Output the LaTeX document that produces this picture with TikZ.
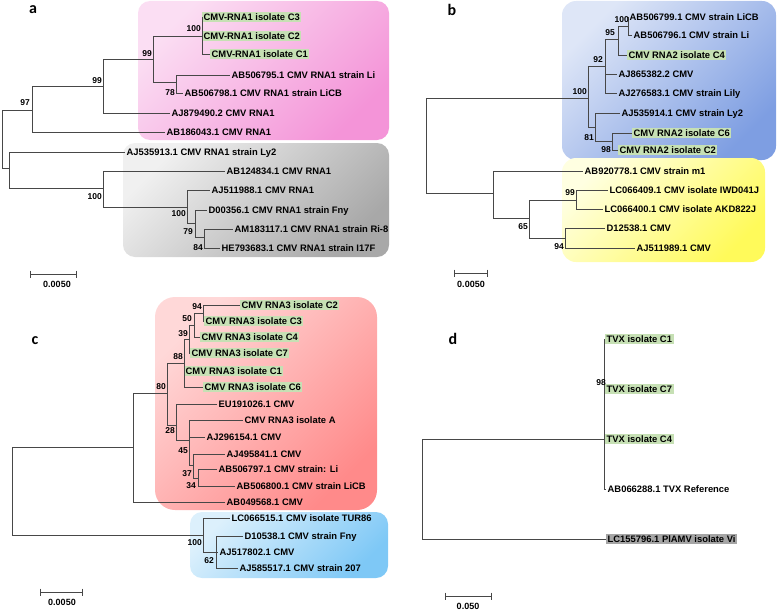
\documentclass[tikz,border=0pt]{standalone}
\usepackage{fontspec}
\setmainfont{Liberation Sans}
\newfontfamily\panelfont{Carlito}

\definecolor{isogreen}{RGB}{198,224,180}
\definecolor{outgray}{RGB}{165,165,165}
\definecolor{pinkL}{RGB}{251,222,243}
\definecolor{pinkD}{RGB}{244,148,216}
\definecolor{grayL}{RGB}{240,240,240}
\definecolor{grayD}{RGB}{168,168,168}
\definecolor{blueL}{RGB}{222,230,247}
\definecolor{blueD}{RGB}{126,158,226}
\definecolor{yelL}{RGB}{255,255,225}
\definecolor{yelD}{RGB}{255,250,90}
\definecolor{redL}{RGB}{255,216,216}
\definecolor{redD}{RGB}{255,138,138}
\definecolor{cyanL}{RGB}{220,240,252}
\definecolor{cyanD}{RGB}{126,200,246}

\tikzset{
    branch/.style={draw=black!72, line width=0.75pt},
    leaf/.style={anchor=west, inner xsep=1.5pt, inner ysep=1.6pt, text height=7pt, text depth=0.6pt,
                 font=\fontsize{9.4}{11}\selectfont\bfseries},
    isolate/.style={leaf, fill=isogreen},
    outgroup/.style={leaf, fill=outgray},
    boot/.style={anchor=east, inner sep=0pt, font=\fontsize{8.5}{10}\selectfont\bfseries},
    scalelbl/.style={inner sep=0pt, font=\fontsize{9}{10}\selectfont\bfseries},
    panel/.style={inner sep=0pt, font=\panelfont\fontsize{16}{18}\selectfont\bfseries},
}

\begin{document}
\begin{tikzpicture}[x=1pt, y=-1pt]
    \useasboundingbox (0,0) rectangle (778,610);

    % clade boxes
    \shade[rounded corners=12pt, top color=pinkL, bottom color=pinkD, shading angle=45] (138,1) rectangle (389,140);
    \shade[rounded corners=12pt, top color=grayL, bottom color=grayD, shading angle=45] (123,143) rectangle (389,257);
    \shade[rounded corners=14pt, top color=blueL, bottom color=blueD, shading angle=45] (562,1) rectangle (776,160);
    \shade[rounded corners=14pt, top color=yelL, bottom color=yelD, shading angle=45] (562,158) rectangle (765,262);
    \shade[rounded corners=20pt, top color=redL, bottom color=redD, shading angle=45] (155,297) rectangle (377,510);
    \shade[rounded corners=12pt, top color=cyanL, bottom color=cyanD, shading angle=45] (190,512) rectangle (388,578);

    \node[panel] (pa) at (33,10)  {a};
    \node[panel] (pb) at (452,10) {b};
    \node[panel] (pc) at (35,341) {c};
    \node[panel] (pd) at (453,339) {d};

    % ---- a: RNA1 ----
    \coordinate (aroot) at (2,139);
    \coordinate (a97)   at (32,110);
    \coordinate (a99o)  at (103,86);
    \coordinate (a99i)  at (153,59);
    \coordinate (a100)  at (202,36);
    \coordinate (a78)   at (176,82);
    \coordinate (alow)  at (9,168);
    \coordinate (a100m) at (103,188);
    \coordinate (a100l) at (187,207);
    \coordinate (a79)   at (195,223);
    \coordinate (a84)   at (204,237);

    \node[isolate] (aC3)   at (202,17)  {CMV-RNA1 isolate C3};
    \node[isolate] (aC2)   at (202,36)  {CMV-RNA1 isolate C2};
    \node[isolate] (aC1)   at (210,54)  {CMV-RNA1 isolate C1};
    \node[leaf]    (aLi)   at (230,75)  {AB506795.1 CMV RNA1 strain Li};
    \node[leaf]    (aLiCB) at (183,93)  {AB506798.1 CMV RNA1 strain LiCB};
    \node[leaf]    (aAJ879) at (170,113) {AJ879490.2 CMV RNA1};
    \node[leaf]    (aAB186) at (165,132) {AB186043.1 CMV RNA1};
    \node[leaf]    (aLy2)  at (125,152) {AJ535913.1 CMV RNA1 strain Ly2};
    \node[leaf]    (aAB124) at (225,171) {AB124834.1 CMV RNA1};
    \node[leaf]    (aAJ511) at (210,190) {AJ511988.1 CMV RNA1};
    \node[leaf]    (aFny)  at (207,210) {D00356.1 CMV RNA1 strain Fny};
    \node[leaf]    (aRi8)  at (233,229) {AM183117.1 CMV RNA1 strain Ri-8};
    \node[leaf]    (aI17F) at (220,248) {HE793683.1 CMV RNA1 strain I17F};

    \foreach \p/\c in {aroot/a97, aroot/alow, a97/a99o, a97/aAB186, a99o/a99i, a99o/aAJ879,
                       a99i/a100, a99i/a78, a100/aC3, a100/aC2, a100/aC1, a78/aLi, a78/aLiCB,
                       alow/aLy2, alow/a100m, a100m/aAB124, a100m/a100l, a100l/aAJ511,
                       a100l/a79, a79/aFny, a79/a84, a84/aRi8, a84/aI17F}
        \draw[branch] (\p) |- (\c);

    % ---- b: RNA2 ----
    \coordinate (broot) at (426,145);
    \coordinate (b100)  at (588,98);
    \coordinate (b92)   at (605,66);
    \coordinate (b95)   at (618,39);
    \coordinate (b100i) at (628,26);
    \coordinate (b81)   at (595,127);
    \coordinate (b98)   at (612,141);
    \coordinate (bn)    at (493,193);
    \coordinate (b65)   at (529,218);
    \coordinate (b99)   at (576,200);
    \coordinate (b94)   at (565,238);

    \node[leaf]    (bLiCB) at (628,17)  {AB506799.1 CMV strain LiCB};
    \node[leaf]    (bLi)   at (632,35)  {AB506796.1 CMV strain Li};
    \node[isolate] (bC4)   at (627,55)  {CMV RNA2 isolate C4};
    \node[leaf]    (bAJ865) at (617,74) {AJ865382.2 CMV};
    \node[leaf]    (bLily) at (617,93)  {AJ276583.1 CMV strain Lily};
    \node[leaf]    (bLy2)  at (620,113) {AJ535914.1 CMV strain Ly2};
    \node[isolate] (bC6)   at (632,133) {CMV RNA2 isolate C6};
    \node[isolate] (bC2)   at (618,150) {CMV RNA2 isolate C2};
    \node[leaf]    (bm1)   at (583,171) {AB920778.1 CMV strain m1};
    \node[leaf]    (bIWD)  at (608,190) {LC066409.1 CMV isolate IWD041J};
    \node[leaf]    (bAKD)  at (603,209) {LC066400.1 CMV isolate AKD822J};
    \node[leaf]    (bD125) at (605,228) {D12538.1 CMV};
    \node[leaf]    (bAJ511) at (635,248) {AJ511989.1 CMV};

    \foreach \p/\c in {broot/b100, broot/bn, b100/b92, b100/b81, b92/b95, b92/bAJ865, b92/bLily,
                       b95/b100i, b95/bC4, b100i/bLiCB, b100i/bLi, b81/bLy2, b81/b98, b98/bC6,
                       b98/bC2, bn/bm1, bn/b65, b65/b99, b65/b94, b99/bIWD, b99/bAKD,
                       b94/bD125, b94/bAJ511}
        \draw[branch] (\p) |- (\c);

    % ---- c: RNA3 ----
    \coordinate (croot) at (12,491);
    \coordinate (cn)    at (133,447);
    \coordinate (c80)   at (167,393);
    \coordinate (c88)   at (184,363);
    \coordinate (c39)   at (189,339);
    \coordinate (c50)   at (194,325);
    \coordinate (c94)   at (203,313);
    \coordinate (c28)   at (176,425);
    \coordinate (c45)   at (189,440);
    \coordinate (c37)   at (193,465);
    \coordinate (c34)   at (198,478);
    \coordinate (c100)  at (203,535);
    \coordinate (c62)   at (216,552);

    \node[isolate] (cC2)   at (240,305) {CMV RNA3 isolate C2};
    \node[isolate] (cC3)   at (204,321) {CMV RNA3 isolate C3};
    \node[isolate] (cC4)   at (200,337) {CMV RNA3 isolate C4};
    \node[isolate] (cC7)   at (190,353) {CMV RNA3 isolate C7};
    \node[isolate] (cC1)   at (184,371) {CMV RNA3 isolate C1};
    \node[isolate] (cC6)   at (203,387) {CMV RNA3 isolate C6};
    \node[leaf]    (cEU)   at (217,404) {EU191026.1 CMV};
    \node[leaf]    (cA)    at (243,420) {CMV RNA3 isolate A};
    \node[leaf]    (cAJ296) at (205,437) {AJ296154.1 CMV};
    \node[leaf]    (cAJ495) at (225,454) {AJ495841.1 CMV};
    \node[leaf]    (cLi)   at (217,469) {AB506797.1 CMV strain: Li};
    \node[leaf]    (cLiCB) at (235,486) {AB506800.1 CMV strain LiCB};
    \node[leaf]    (cAB049) at (225,502) {AB049568.1 CMV};
    \node[leaf]    (cTUR)  at (230,518) {LC066515.1 CMV isolate TUR86};
    \node[leaf]    (cFny)  at (243,536) {D10538.1 CMV strain Fny};
    \node[leaf]    (cAJ517) at (218,552) {AJ517802.1 CMV};
    \node[leaf]    (c207)  at (238,568) {AJ585517.1 CMV strain 207};

    \foreach \p/\c in {croot/cn, croot/c100, cn/c80, cn/cAB049, c80/c88, c80/c28, c88/c39,
                       c88/cC1, c88/cC6, c39/c50, c39/cC7, c50/c94, c50/cC4, c94/cC2, c94/cC3,
                       c28/cEU, c28/c45, c45/cA, c45/cAJ296, c45/c37, c37/cAJ495, c37/c34,
                       c34/cLi, c34/cLiCB, c100/cTUR, c100/cAJ517, c100/c62, c62/cFny, c62/c207}
        \draw[branch] (\p) |- (\c);

    % ---- d: TVX ----
    \coordinate (droot) at (422,489);
    \coordinate (d98)   at (604,439);

    \node[isolate]  (dC1)  at (605,339) {TVX isolate C1};
    \node[isolate]  (dC7)  at (605,389) {TVX isolate C7};
    \node[isolate]  (dC4)  at (605,439) {TVX isolate C4};
    \node[leaf]     (dRef) at (606,489) {AB066288.1 TVX Reference};
    \node[outgroup] (dVi)  at (606,539) {LC155796.1 PlAMV isolate Vi};

    \foreach \p/\c in {droot/d98, droot/dVi, d98/dC1, d98/dC7, d98/dC4, d98/dRef}
        \draw[branch] (\p) |- (\c);

    % bootstrap values
    \foreach \n/\x/\y/\t in {ba1/201/29/100, ba2/152/54/99, ba3/175/93/78, ba4/102/81/99,
                             ba5/30/103/97, ba6/102/197/100, ba7/186/214/100, ba8/193/232/79,
                             ba9/203/248/84,
                             bb1/629/20/100, bb2/615/33/95, bb3/603/60/92, bb4/587/92/100,
                             bb5/594/138/81, bb6/611/150/98, bb7/575/193/99, bb8/528/227/65,
                             bb9/564/247/94,
                             bc1/202/307/94, bc2/192/319/50, bc3/188/334/39, bc4/183/357/88,
                             bc5/166/387/80, bc6/175/431/28, bc7/188/451/45, bc8/192/474/37,
                             bc9/196/486/34, bc10/202/543/100, bc11/214/561/62,
                             bd1/606/383/98}
        \node[boot] (\n) at (\x,\y) {\t};

    % scale bars
    \draw[branch, |-|] (30,274) -- (77,274);
    \node[scalelbl] (sa) at (57,284) {0.0050};
    \draw[branch, |-|] (454,273) -- (488,273);
    \node[scalelbl] (sb) at (471,284) {0.0050};
    \draw[branch, |-|] (40,592) -- (83,592);
    \node[scalelbl] (sc) at (62,602) {0.0050};
    \draw[branch, |-|] (445,596) -- (492,596);
    \node[scalelbl] (sd) at (468,606) {0.050};
\end{tikzpicture}
\end{document}
